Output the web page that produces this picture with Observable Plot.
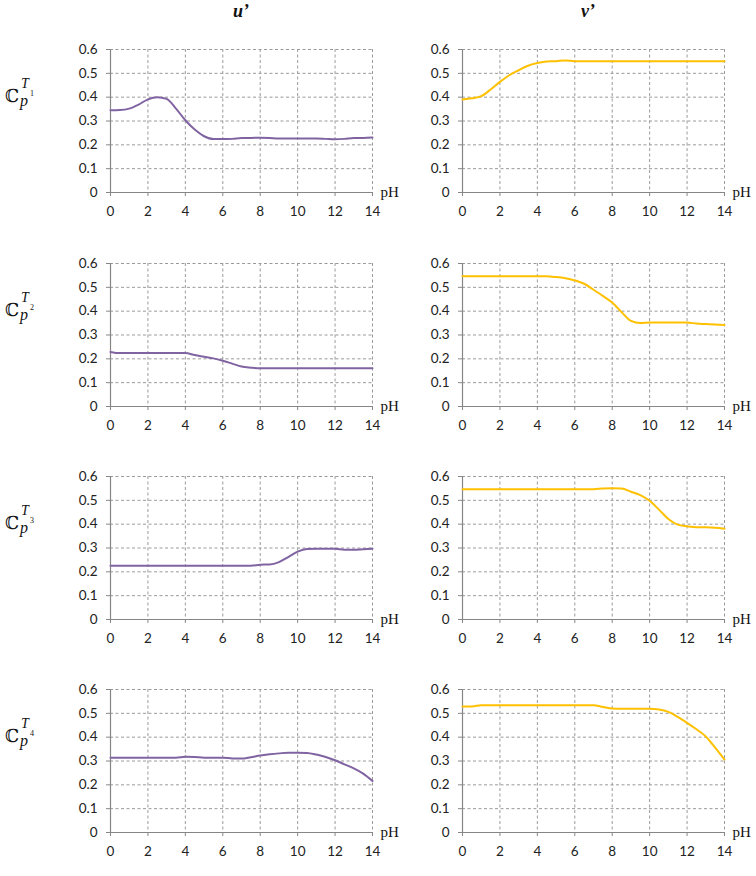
<!DOCTYPE html>
<html>
<head>
<meta charset="utf-8">
<script src="https://cdn.jsdelivr.net/npm/d3@7"></script>
<script src="https://cdn.jsdelivr.net/npm/@observablehq/plot@0.6"></script>
<style>
  body { margin: 0; background: #fff; }
  #wrap { position: relative; width: 756px; height: 876px; background: #fff; overflow: hidden; }
  .panel { position: absolute; }
  .coltitle { position: absolute; font-family: "Liberation Serif", "DejaVu Serif", serif; font-weight: bold; font-style: italic; font-size: 18px; color: #111; white-space: nowrap; }
  .rowlab { position: absolute; left: 0; width: 50px; height: 40px; font-family: "Liberation Serif", "DejaVu Serif", serif; color: #111; }
  .rowlab span { position: absolute; line-height: 1; white-space: nowrap; }
</style>
</head>
<body>
<div id="wrap"></div>
<script>
// ---- data ----
const pH = [0, 0.5, 1, 1.5, 2, 2.5, 3, 3.5, 4, 4.5, 5, 5.5, 6, 6.5, 7, 7.5, 8, 8.5, 9, 9.5, 10, 10.5, 11, 11.5, 12, 12.5, 13, 13.5, 14];

const u1 = [0.345, 0.346, 0.352, 0.369, 0.391, 0.400, 0.393, 0.352, 0.303, 0.264, 0.236, 0.224, 0.224, 0.225, 0.229, 0.229, 0.230, 0.229, 0.227, 0.227, 0.227, 0.227, 0.227, 0.225, 0.223, 0.225, 0.229, 0.229, 0.231];
const v1 = [0.390, 0.395, 0.404, 0.432, 0.464, 0.492, 0.513, 0.532, 0.543, 0.550, 0.551, 0.554, 0.551, 0.551, 0.551, 0.551, 0.551, 0.551, 0.551, 0.551, 0.551, 0.551, 0.551, 0.551, 0.551, 0.551, 0.551, 0.551, 0.551];

const u2 = [0.229, 0.224, 0.224, 0.224, 0.224, 0.224, 0.224, 0.224, 0.224, 0.216, 0.209, 0.202, 0.192, 0.180, 0.168, 0.163, 0.160, 0.160, 0.160, 0.160, 0.160, 0.160, 0.160, 0.160, 0.160, 0.160, 0.160, 0.160, 0.160];
const v2 = [0.546, 0.546, 0.546, 0.546, 0.546, 0.546, 0.546, 0.546, 0.546, 0.546, 0.543, 0.538, 0.529, 0.515, 0.490, 0.464, 0.436, 0.396, 0.359, 0.350, 0.352, 0.352, 0.352, 0.352, 0.352, 0.348, 0.346, 0.344, 0.342];

const u3 = [0.226, 0.226, 0.226, 0.226, 0.226, 0.226, 0.226, 0.226, 0.226, 0.226, 0.226, 0.226, 0.226, 0.226, 0.226, 0.226, 0.230, 0.231, 0.241, 0.262, 0.285, 0.296, 0.297, 0.297, 0.297, 0.293, 0.293, 0.295, 0.297];
const v3 = [0.547, 0.547, 0.547, 0.547, 0.547, 0.547, 0.547, 0.547, 0.547, 0.547, 0.547, 0.547, 0.547, 0.547, 0.547, 0.550, 0.551, 0.550, 0.536, 0.522, 0.498, 0.461, 0.422, 0.398, 0.391, 0.387, 0.387, 0.385, 0.381];

const u4 = [0.314, 0.314, 0.314, 0.314, 0.314, 0.314, 0.314, 0.314, 0.318, 0.317, 0.314, 0.314, 0.314, 0.311, 0.310, 0.316, 0.323, 0.328, 0.332, 0.335, 0.335, 0.334, 0.327, 0.317, 0.303, 0.286, 0.269, 0.247, 0.216];
const v4 = [0.529, 0.529, 0.534, 0.534, 0.534, 0.534, 0.534, 0.534, 0.534, 0.534, 0.534, 0.534, 0.534, 0.534, 0.534, 0.527, 0.520, 0.519, 0.519, 0.519, 0.519, 0.516, 0.506, 0.485, 0.460, 0.433, 0.403, 0.356, 0.306];

const xTicks = [0, 2, 4, 6, 8, 10, 12, 14];
const yTicks = [0, 0.1, 0.2, 0.3, 0.4, 0.5, 0.6];
const yTickLabels = ["0", "0.1", "0.2", "0.3", "0.4", "0.5", "0.6"];
const columnTitles = ["u\u2019", "v\u2019"];
const rowIndices = ["1", "2", "3", "4"];
const xLabel = "pH";
const uColor = "#8064A2";
const vColor = "#FFC000";

const rows = [[u1, v1], [u2, v2], [u3, v3], [u4, v4]];

// ---- layout ----
const wrap = document.getElementById("wrap");
const rowTops = [39, 253, 466, 679];
const colLefts = [60, 412];
const colColors = [uColor, vColor];

function panel(values, color) {
  const data = pH.map((x, i) => ({x, y: values[i]}));
  const gridStyle = {stroke: "#9a9a9a", strokeOpacity: 1, strokeWidth: 1, strokeDasharray: "3,2.5"};
  return Plot.plot({
    width: 342, height: 185,
    marginLeft: 50, marginRight: 30, marginTop: 10, marginBottom: 32,
    x: {domain: [0, 14]},
    y: {domain: [0, 0.6]},
    style: {fontFamily: "Lato, 'Open Sans', sans-serif", fontSize: "13.5px", color: "#222", background: "transparent", overflow: "visible"},
    marks: [
      Plot.gridX(xTicks, gridStyle),
      Plot.gridY(yTicks, gridStyle),
      Plot.ruleX([0], {stroke: "#868686", strokeWidth: 1.2}),
      Plot.ruleY([0], {stroke: "#868686", strokeWidth: 1.2}),
      Plot.axisX(xTicks, {tickSize: 4, tickPadding: 10, stroke: "#868686", label: null}),
      Plot.axisY(yTicks, {tickSize: 4, tickPadding: 9, stroke: "#868686", label: null, tickFormat: d => yTickLabels[yTicks.indexOf(d)]}),
      Plot.line(data, {x: "x", y: "y", stroke: color, strokeWidth: 2, curve: "monotone-x"}),
      Plot.text([xLabel], {x: [14], y: [0], text: d => d, textAnchor: "start", lineAnchor: "middle", dx: 8, fontFamily: "'Liberation Serif', serif", fontSize: 15, fill: "#111"})
    ]
  });
}

rows.forEach((pair, r) => {
  pair.forEach((vals, c) => {
    const el = panel(vals, colColors[c]);
    el.classList.add("panel");
    el.style.left = colLefts[c] + "px";
    el.style.top = rowTops[r] + "px";
    wrap.appendChild(el);
  });
  // row label: ℂ^T_{p^k}
  const lab = document.createElement("div");
  lab.className = "rowlab";
  const base = rowTops[r] + 61 - 28;
  lab.style.top = base + "px";
  lab.innerHTML =
    `<span style="left:5px; top:15px; font-size:18px; font-family:'DejaVu Serif',serif;">\u2102</span>` +
    `<span style="left:21px; top:5px; font-size:14px; font-style:italic;">T</span>` +
    `<span style="left:20px; top:21px; font-size:16px; font-style:italic;">p</span>` +
    `<span style="left:30px; top:18px; font-size:8px;">${rowIndices[r]}</span>`;
  wrap.appendChild(lab);
});

columnTitles.forEach((t, c) => {
  const d = document.createElement("div");
  d.className = "coltitle";
  d.textContent = t;
  d.style.top = "1px";
  d.style.left = (c === 0 ? 233 : 581) + "px";
  wrap.appendChild(d);
});
</script>
</body>
</html>
